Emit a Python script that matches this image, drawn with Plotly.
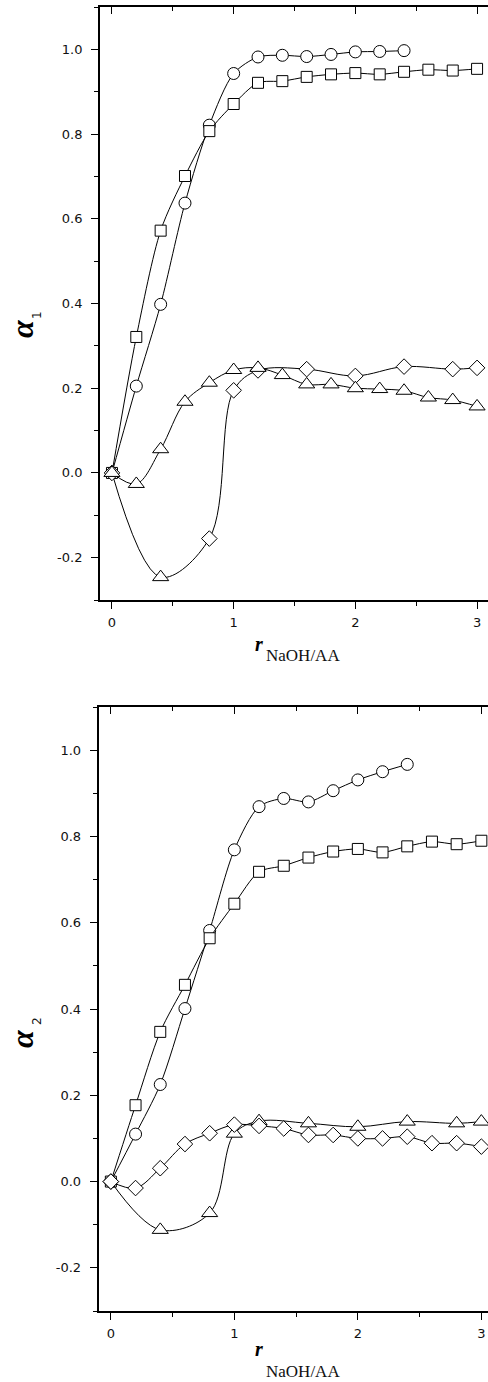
import plotly.graph_objects as go

W, H = 488, 1382

# ---------------- data ----------------
x_full = [0, 0.2, 0.4, 0.6, 0.8, 1.0, 1.2, 1.4, 1.6, 1.8, 2.0, 2.2, 2.4, 2.6, 2.8, 3.0]
x_circ = [0, 0.2, 0.4, 0.6, 0.8, 1.0, 1.2, 1.4, 1.6, 1.8, 2.0, 2.2, 2.4]
x_sparse = [0, 0.4, 0.8, 1.0, 1.2, 1.6, 2.0, 2.4, 2.8, 3.0]

# top panel (alpha_1)
a1_circ = [0, 0.205, 0.398, 0.637, 0.821, 0.943, 0.982, 0.986, 0.983, 0.988, 0.994, 0.995, 0.997]
a1_sq = [0, 0.321, 0.572, 0.701, 0.807, 0.871, 0.921, 0.925, 0.935, 0.941, 0.944, 0.941, 0.947, 0.952, 0.950, 0.954]
a1_tri = [0, -0.026, 0.056, 0.168, 0.213, 0.243, 0.248, 0.231, 0.209, 0.209, 0.200, 0.198, 0.194, 0.178, 0.172, 0.157]
a1_dia = [0, -0.246, -0.155, 0.195, 0.242, 0.245, 0.229, 0.251, 0.245, 0.248]

# bottom panel (alpha_2)
a2_circ = [0, 0.110, 0.225, 0.401, 0.582, 0.769, 0.869, 0.888, 0.880, 0.906, 0.931, 0.950, 0.967]
a2_sq = [0, 0.177, 0.347, 0.456, 0.564, 0.644, 0.718, 0.732, 0.751, 0.765, 0.771, 0.763, 0.777, 0.788, 0.782, 0.790]
a2_dia = [0, -0.015, 0.031, 0.087, 0.112, 0.132, 0.129, 0.123, 0.108, 0.108, 0.100, 0.100, 0.104, 0.089, 0.089, 0.081]
a2_tri = [0, -0.112, -0.073, 0.111, 0.140, 0.135, 0.127, 0.139, 0.135, 0.139]

y_tickvals = [-0.2, 0.0, 0.2, 0.4, 0.6, 0.8, 1.0]
y_ticktext = ["-0.2", "0.0", "0.2", "0.4", "0.6", "0.8", "1.0"]
x_tickvals = [0, 1, 2, 3]
x_ticktext = ["0", "1", "2", "3"]

# marker symbol per point of the "dip" series (style)
sym_top_dip = ["diamond", "triangle-up"] + ["diamond"] * (len(x_sparse) - 2)
sym_bot_dip = ["diamond"] + ["triangle-up"] * (len(x_sparse) - 1)
SIZES = {"circle": 12, "square": 11, "diamond": 12, "triangle-up": 14}

fig = go.Figure()


def line(x, y, xa, ya, smooth):
    fig.add_trace(go.Scatter(
        x=x, y=y, mode="lines", xaxis=xa, yaxis=ya,
        line=dict(color="black", width=1, shape="spline", smoothing=smooth),
        showlegend=False, hoverinfo="skip"))


def marks(x, y, symbol, xa, ya):
    fig.add_trace(go.Scatter(
        x=x, y=y, mode="markers", xaxis=xa, yaxis=ya,
        marker=dict(symbol=symbol, size=SIZES[symbol], color="white",
                    line=dict(color="black", width=1)),
        showlegend=False, hoverinfo="skip"))


def series(x, y, symbols, xa, ya, smooth=0.8):
    line(x, y, xa, ya, smooth)
    if isinstance(symbols, str):
        marks(x, y, symbols, xa, ya)
    else:
        for s in dict.fromkeys(symbols):
            xs = [xv for xv, sv in zip(x, symbols) if sv == s]
            ys = [yv for yv, sv in zip(y, symbols) if sv == s]
            marks(xs, ys, s, xa, ya)


# top panel
series(x_circ, a1_circ, "circle", "x", "y")
series(x_full, a1_sq, "square", "x", "y")
series(x_sparse, a1_dia, sym_top_dip, "x", "y", 1.0)
series(x_full, a1_tri, "triangle-up", "x", "y", 1.0)
# bottom panel
series(x_circ, a2_circ, "circle", "x2", "y2")
series(x_full, a2_sq, "square", "x2", "y2")
series(x_sparse, a2_tri, sym_bot_dip, "x2", "y2", 1.0)
series(x_full, a2_dia, "diamond", "x2", "y2", 1.0)

# helper traces for the top (inside-tick) frame axes
fig.add_trace(go.Scatter(x=[None], y=[None], xaxis="x3", yaxis="y", showlegend=False, hoverinfo="skip"))
fig.add_trace(go.Scatter(x=[None], y=[None], xaxis="x4", yaxis="y2", showlegend=False, hoverinfo="skip"))

tickfont = dict(family="DejaVu Sans", size=13, color="#111")


def px_x(p):
    return p / W


def px_y(p):
    return 1 - p / H


top_dom_y = [px_y(600), px_y(7)]
bot_dom_y = [px_y(1311), px_y(707)]
top_dom_x = [px_x(99.8), 1.0]
bot_dom_x = [px_x(98.5), 1.0]
top_xr = [-0.1, -0.1 + (W - 99.8) / 121.7]
bot_xr = [-0.1, -0.1 + (W - 98.5) / 123.5]


def xaxis(dom, rng, anchor):
    return dict(domain=dom, range=rng, anchor=anchor, tickmode="array",
                tickvals=x_tickvals, ticktext=x_ticktext, ticks="outside",
                ticklen=7, tickwidth=1, tickcolor="black", showline=True,
                linewidth=1.5, linecolor="black", showgrid=False, zeroline=False,
                tickfont=tickfont, ticklabelstandoff=3,
                minor=dict(tickmode="linear", tick0=0, dtick=0.5, ticks="outside",
                           ticklen=4, tickwidth=1, tickcolor="black", showgrid=False))


def xaxis_top(over, rng, anchor):
    return dict(overlaying=over, side="top", range=rng, anchor=anchor,
                tickmode="array", tickvals=x_tickvals, ticks="inside",
                ticklen=7, tickwidth=1, tickcolor="black", showline=True,
                linewidth=1.5, linecolor="black", showgrid=False, zeroline=False,
                showticklabels=False,
                minor=dict(tickmode="linear", tick0=0, dtick=0.5, ticks="inside",
                           ticklen=4, tickwidth=1, tickcolor="black", showgrid=False))


def yaxis(dom, anchor):
    return dict(domain=dom, range=[-0.3, 1.1], anchor=anchor, tickmode="array",
                tickvals=y_tickvals, ticktext=y_ticktext, ticks="outside",
                ticklen=7, tickwidth=1, tickcolor="black", showline=True,
                linewidth=1.5, linecolor="black", showgrid=False, zeroline=False,
                tickfont=tickfont, ticklabelstandoff=6,
                minor=dict(tickmode="linear", tick0=0, dtick=0.1, ticks="outside",
                           ticklen=4, tickwidth=1, tickcolor="black", showgrid=False))


fig.update_layout(
    width=W, height=H, margin=dict(l=0, r=0, t=0, b=0),
    paper_bgcolor="white", plot_bgcolor="white",
    xaxis=xaxis(top_dom_x, top_xr, "y"),
    yaxis=yaxis(top_dom_y, "x"),
    xaxis2=xaxis(bot_dom_x, bot_xr, "y2"),
    yaxis2=yaxis(bot_dom_y, "x2"),
    xaxis3=xaxis_top("x", top_xr, "y"),
    xaxis4=xaxis_top("x2", bot_xr, "y2"),
)

ann = []
for (ay, sy, sub, ry, rsy) in [(329, 315, "1", 644, 655), (1039, 1021, "2", 1349, 1371)]:
    ann.append(dict(x=px_x(22), y=px_y(ay), xref="paper", yref="paper", text="<b><i>α</i></b>",
                    xanchor="center", yanchor="middle",
                    showarrow=False, textangle=-90, font=dict(family="Liberation Serif", size=32, color="black")))
    ann.append(dict(x=px_x(37), y=px_y(sy), xref="paper", yref="paper", text=sub,
                    xanchor="center", yanchor="middle",
                    showarrow=False, textangle=-90, font=dict(family="DejaVu Sans", size=12, color="#111")))
    ann.append(dict(x=px_x(259), y=px_y(ry), xref="paper", yref="paper", text="<b><i>r</i></b>",
                    xanchor="center", yanchor="middle",
                    showarrow=False, font=dict(family="Liberation Serif", size=20, color="black")))
    ann.append(dict(x=px_x(264), y=px_y(rsy), xref="paper", yref="paper", text="NaOH/AA",
                    xanchor="left", yanchor="middle",
                    showarrow=False, font=dict(family="Liberation Serif", size=17, color="#111")))
fig.update_layout(annotations=ann)

fig.write_html("out.html")
